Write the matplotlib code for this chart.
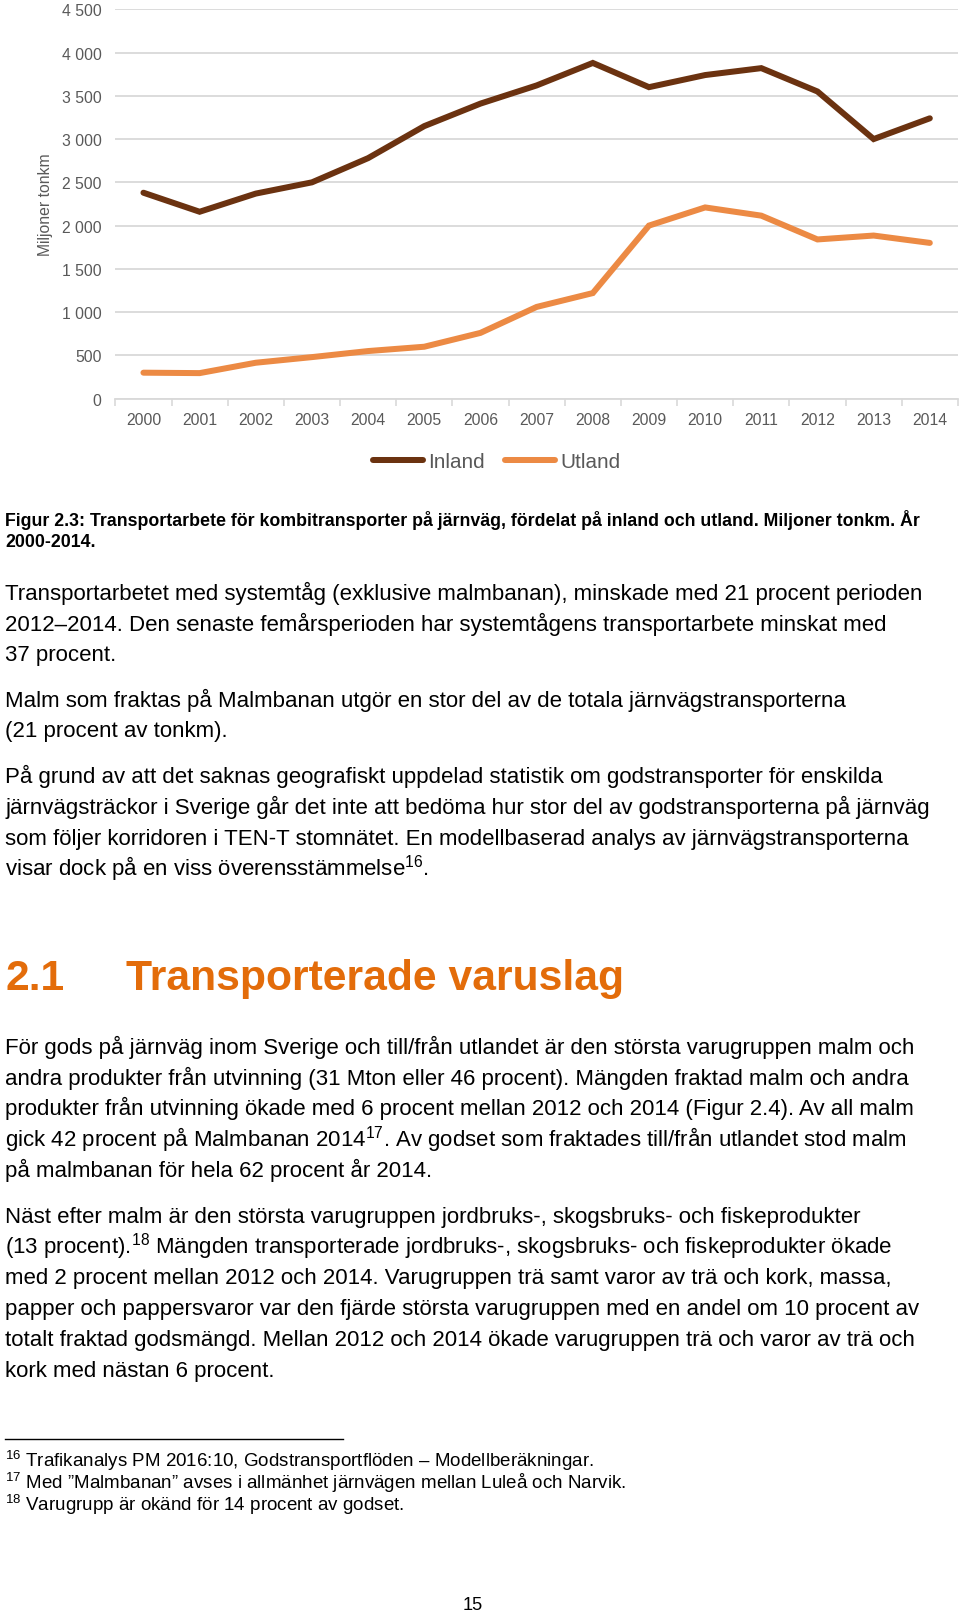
import matplotlib
matplotlib.use("Agg")
import matplotlib.pyplot as plt
from matplotlib.lines import Line2D

plt.rcParams['font.family'] = ['Liberation Sans', 'DejaVu Sans']
plt.rcParams['mathtext.fontset'] = 'custom'
plt.rcParams['mathtext.rm'] = 'Liberation Sans'
plt.rcParams['mathtext.it'] = 'Liberation Sans'
plt.rcParams['mathtext.default'] = 'regular'

# ---------------- data ----------------
years = ["2000", "2001", "2002", "2003", "2004", "2005", "2006", "2007",
         "2008", "2009", "2010", "2011", "2012", "2013", "2014"]
inland = [2380, 2160, 2370, 2500, 2780, 3150, 3410, 3620, 3880, 3600,
          3740, 3820, 3550, 3000, 3240]
utland = [300, 295, 415, 480, 550, 600, 760, 1060, 1220, 2000,
          2210, 2115, 1840, 1885, 1800]
series_names = ["Inland", "Utland"]
yticks = [0, 500, 1000, 1500, 2000, 2500, 3000, 3500, 4000, 4500]
ytick_labels = ["0", "500", "1 000", "1 500", "2 000", "2 500", "3 000",
                "3 500", "4 000", "4 500"]
y_label = "Miljoner tonkm"

caption = ["Figur 2.3: Transportarbete för kombitransporter på järnväg, fördelat på inland och utland. Miljoner tonkm. År",
           "2000-2014."]
body1 = [
    (576, "Transportarbetet med systemtåg (exklusive malmbanan), minskade med 21 procent perioden"),
    (606, "2012–2014. Den senaste femårsperioden har systemtågens transportarbete minskat med"),
    (635, "37 procent."),
    (679, "Malm som fraktas på Malmbanan utgör en stor del av de totala järnvägstransporterna"),
    (709, "(21 procent av tonkm)."),
    (753, "På grund av att det saknas geografiskt uppdelad statistik om godstransporter för enskilda"),
    (783, "järnvägsträckor i Sverige går det inte att bedöma hur stor del av godstransporterna på järnväg"),
    (813, "som följer korridoren i TEN-T stomnätet. En modellbaserad analys av järnvägstransporterna"),
    (843, "visar dock på en viss överensstämmelse$^{16}$."),
    (1016, "För gods på järnväg inom Sverige och till/från utlandet är den största varugruppen malm och"),
    (1046, "andra produkter från utvinning (31 Mton eller 46 procent). Mängden fraktad malm och andra"),
    (1076, "produkter från utvinning ökade med 6 procent mellan 2012 och 2014 (Figur 2.4). Av all malm"),
    (1106, "gick 42 procent på Malmbanan 2014$^{17}$. Av godset som fraktades till/från utlandet stod malm"),
    (1136, "på malmbanan för hela 62 procent år 2014."),
    (1180, "Näst efter malm är den största varugruppen jordbruks-, skogsbruks- och fiskeprodukter"),
    (1210, "(13 procent).$^{18}$ Mängden transporterade jordbruks-, skogsbruks- och fiskeprodukter ökade"),
    (1240, "med 2 procent mellan 2012 och 2014. Varugruppen trä samt varor av trä och kork, massa,"),
    (1270, "papper och pappersvaror var den fjärde största varugruppen med en andel om 10 procent av"),
    (1300, "totalt fraktad godsmängd. Mellan 2012 och 2014 ökade varugruppen trä och varor av trä och"),
    (1330, "kork med nästan 6 procent."),
]
heading_num = "2.1"
heading_txt = "Transporterade varuslag"
footnotes = [
    (1418, "$^{16}$ Trafikanalys PM 2016:10, Godstransportflöden – Modellberäkningar."),
    (1440, "$^{17}$ Med ”Malmbanan” avses i allmänhet järnvägen mellan Luleå och Narvik."),
    (1461, "$^{18}$ Varugrupp är okänd för 14 procent av godset."),
]
page_no = "15"

# ---------------- figure ----------------
W, H = 960, 1615
S = 1.03  # layout units -> pixels
fig = plt.figure(figsize=(W / 100, H / 100), dpi=100)
fig.patch.set_facecolor("white")

def fy(py):
    return 1 - py * S / H

def fx(px):
    return px * S / W

def fs(pt):
    return pt * S

C_IN = "#6B3210"
C_UT = "#EC8A44"
GRID = "#D9D9D9"
TXT = "#595959"
LW = fs(4.2)

ax = fig.add_axes([fx(112), fy(388), fx(930) - fx(112), fy(10) - fy(388)])
x = list(range(len(years)))
ax.plot(x, inland, color=C_IN, lw=LW, solid_capstyle='round', solid_joinstyle='miter', zorder=3)
ax.plot(x, utland, color=C_UT, lw=LW, solid_capstyle='round', solid_joinstyle='miter', zorder=3)
ax.set_xlim(-0.5, len(years) - 0.5)
ax.set_ylim(0, 4500)
ax.set_yticks(yticks)
ax.set_yticklabels(ytick_labels)
ax.set_xticks(x)
ax.set_xticklabels(years)
ax.set_xticks([i - 0.5 for i in range(len(years) + 1)], minor=True)
ax.tick_params(axis='x', which='major', length=0, pad=fs(9), labelsize=fs(11), labelcolor=TXT)
ax.tick_params(axis='x', which='minor', length=fs(5), width=1.2, color=GRID)
ax.tick_params(axis='y', length=0, pad=10, labelsize=fs(11), labelcolor=TXT)
ax.grid(axis='y', color=GRID, lw=1.3, zorder=0)
ax.set_axisbelow(True)
for s in ['top', 'right', 'left']:
    ax.spines[s].set_visible(False)
ax.spines['bottom'].set_color(GRID)
ax.spines['bottom'].set_linewidth(1.3)
ax.set_ylabel(y_label, fontsize=fs(11), color=TXT)
ax.yaxis.set_label_coords((51 - 112) / 818, 0.5)

handles = [Line2D([], [], color=C_IN, lw=LW, solid_capstyle='round'),
           Line2D([], [], color=C_UT, lw=LW, solid_capstyle='round')]
leg = fig.legend(handles, series_names, loc='center', bbox_to_anchor=(fx(482), fy(449)),
                 ncol=2, frameon=False, fontsize=fs(14.5), handlelength=2.4,
                 handletextpad=0.25, columnspacing=1.0, labelcolor=TXT)

# ---------------- text ----------------
CAP_FS = fs(12.4)
fig.text(fx(5), fy(511), caption[0], fontsize=CAP_FS, fontweight='bold', va='baseline')
fig.text(fx(5), fy(531), caption[1], fontsize=CAP_FS, fontweight='bold', va='baseline')

BODY_FS = fs(15.6)
for py, t in body1:
    fig.text(fx(5), fy(py + 7), t, fontsize=BODY_FS, va='baseline', color='black')

HC = "#E36C0A"
fig.text(fx(5), fy(961), heading_num, fontsize=fs(29.8), fontweight='bold', color=HC, va='baseline')
fig.text(fx(122), fy(961), heading_txt, fontsize=fs(29.8), fontweight='bold', color=HC, va='baseline')

fig.add_artist(Line2D([fx(5), fx(333)], [fy(1398), fy(1398)], color='black', lw=1.0))
FN_FS = fs(13.1)
for py, t in footnotes:
    fig.text(fx(5), fy(py + 6), t, fontsize=FN_FS, va='baseline', color='black')

fig.text(fx(459), fy(1563), page_no, fontsize=fs(12.8), ha='center', va='baseline')

fig.savefig("out.png", dpi=100)
